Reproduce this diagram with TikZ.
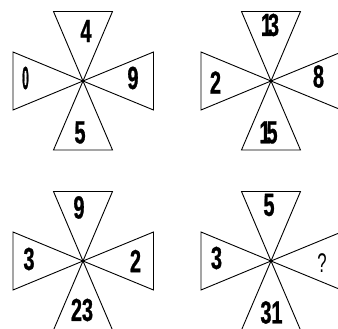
\documentclass[tikz,border=0pt]{standalone}
\usepackage{fontspec}
\newfontfamily\numfont[FakeStretch=0.62,BoldFeatures={FakeBold=0.8}]{Liberation Sans}
\begin{document}
\begin{tikzpicture}[x=1pt,y=-1pt,
  tri/.style={draw=black,line width=0.9pt,line join=miter,fill=white},
  num/.style={inner sep=0pt,font=\numfont\bfseries\fontsize{32}{32}\selectfont},
  qm/.style={inner sep=0pt,font=\numfont\fontsize{27}{27}\selectfont}]
\useasboundingbox (0,0) rectangle (338,329);
\clip (0,0) rectangle (338,329);
\foreach \cx/\cy/\nm in {83/81/a,271/81/b,83/261/c,271/261/d}{
  \coordinate (\nm) at (\cx,\cy);
  \draw[tri] (\nm) -- ++(-29.5,-69.5) -- ++(59,0) -- cycle;
  \draw[tri] (\nm) -- ++(-29.5,69) -- ++(59,0) -- cycle;
  \draw[tri] (\nm) -- ++(-70,-29) -- ++(0,58) -- cycle;
  \draw[tri] (\nm) -- ++(70.5,-29) -- ++(0,58) -- cycle;
  \fill (\nm) circle (1.3);
}
% top-left
\node[num] (a1) at (86,31) {4};
\node[num] (a2) at (25.5,78) {\scalebox{0.6}[1]{0}};
\node[num] (a3) at (133,78) {9};
\node[num] (a4) at (80,132.5) {5};
% top-right
\node[num] (b1) at (270,25) {1\kern-4pt3};
\node[num] (b2) at (215.5,82.5) {2};
\node[num] (b3) at (318.5,76.5) {8};
\node[num] (b4) at (268.5,132.5) {1\kern-4pt5};
% bottom-left
\node[num] (c1) at (79,207.5) {9};
\node[num] (c2) at (29,259) {3};
\node[num] (c3) at (135.5,261) {2};
\node[num] (c4) at (82,310) {23};
% bottom-right
\node[num] (d1) at (269,205) {5};
\node[num] (d2) at (216.5,258) {3};
\node[qm]  (d3) at (322,263) {?};
\node[num] (d4) at (271.5,312.5) {31};
\end{tikzpicture}
\end{document}
